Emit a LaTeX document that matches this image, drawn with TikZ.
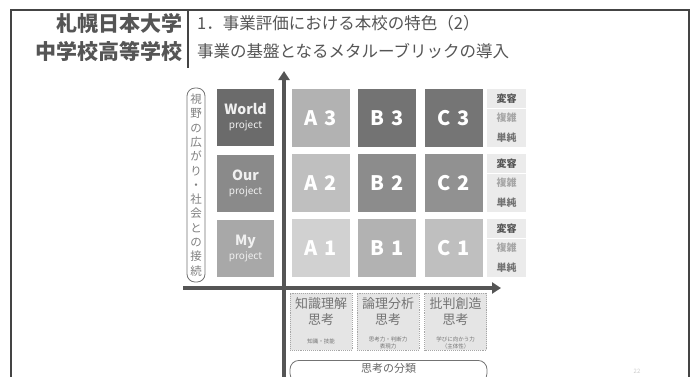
\documentclass[tikz,border=0pt]{standalone}
\usepackage{fontspec}
\setmainfont{Noto Sans CJK JP}
\usetikzlibrary{arrows.meta}
\definecolor{frame}{HTML}{444444}
\definecolor{txt}{HTML}{555555}
\definecolor{axis}{HTML}{555555}
\begin{document}
\begin{tikzpicture}[x=1pt,y=-1pt,
  cell/.style={inner sep=0pt, minimum width=58pt, minimum height=58pt, text=white, font=\fontsize{20}{20}\selectfont\bfseries},
  proj/.style={inner sep=0pt, minimum width=57pt, minimum height=57pt, text=white!94!black, align=center, font=\fontsize{14}{15}\selectfont\bfseries},
  lvl/.style={inner sep=0pt, minimum width=39pt, minimum height=19pt, fill=black!8, font=\fontsize{10}{10}\selectfont\bfseries},
  think/.style={inner sep=0pt, minimum width=62pt, minimum height=57pt, fill=black!10, draw=black!35, densely dotted, line width=0.9pt},
  thinkt/.style={inner sep=0pt, align=center, text=black!55, font=\fontsize{13}{16}\selectfont},
  small/.style={inner sep=0pt, font=\fontsize{5.5}{7}\selectfont, text=black!55, align=center}]
\useasboundingbox (0,0) rectangle (692,376);
\fill[white] (0,0) rectangle (692,376);
% frame
\coordinate (fbl) at (11,377);
\coordinate (ftl) at (11,10);
\coordinate (ftr) at (689,10);
\coordinate (fbr) at (689,377);
\draw[frame, line width=2pt] (fbl) -- (ftl) -- (ftr) -- (fbr);
\coordinate (dt) at (188,10);
\coordinate (db) at (188,68);
\draw[frame, line width=1.6pt] (dt) -- (db);
% header
\node[anchor=east, inner sep=0pt, text=txt, font=\fontsize{21}{21}\selectfont\bfseries] (school1) at (183,23) {札幌日本大学};
\node[anchor=east, inner sep=0pt, text=txt, font=\fontsize{21}{21}\selectfont\bfseries] (school2) at (183,51) {中学校高等学校};
\node[anchor=west, inner sep=0pt, text=txt, font=\fontsize{16.5}{17}\selectfont] (title1) at (197,23) {1．事業評価における本校の特色（2）};
\node[anchor=west, inner sep=0pt, text=txt, font=\fontsize{16.5}{17}\selectfont] (title2) at (197,51) {事業の基盤となるメタルーブリックの導入};
% axes
\coordinate (vb) at (284,377);
\coordinate (vt) at (284,71);
\coordinate (hl) at (183,288);
\coordinate (hr) at (501,288);
\draw[axis, line width=3.6pt, -{Triangle[length=9pt,width=11pt]}] (vb) -- (vt);
\draw[axis, line width=3.6pt, -{Triangle[length=9pt,width=11pt]}] (hl) -- (hr);
% vertical label
\node[draw=black!55, line width=0.8pt, rounded corners=8pt, minimum width=18pt, minimum height=194pt, inner sep=0pt] (view) at (196,185) {};
\node[inner sep=0pt, align=center, text=black!50, font=\fontsize{11.5}{14.3}\selectfont] (viewt) at (196,185) {視\\野\\の\\広\\が\\り\\・\\社\\会\\と\\の\\接\\続};
% projects
\node[proj, fill=black!58] (world) at (245.5,117.5) {World\\[-1pt]{\fontsize{10}{11}\selectfont\mdseries project}};
\node[proj, fill=black!46] (our) at (245.5,183.5) {Our\\[-1pt]{\fontsize{10}{11}\selectfont\mdseries project}};
\node[proj, fill=black!34] (my) at (245.5,248.5) {My\\[-1pt]{\fontsize{10}{11}\selectfont\mdseries project}};
% grid
\node[cell, fill=black!30] (a3) at (321,118) {A\,\,3};
\node[cell, fill=black!55] (b3) at (387,118) {B\,\,3};
\node[cell, fill=black!54] (c3) at (454,118) {C\,\,3};
\node[cell, fill=black!25] (a2) at (321,183) {A\,\,2};
\node[cell, fill=black!45] (b2) at (387,183) {B\,\,2};
\node[cell, fill=black!43] (c2) at (454,183) {C\,\,2};
\node[cell, fill=black!18] (a1) at (321,248) {A\,\,1};
\node[cell, fill=black!30] (b1) at (387,248) {B\,\,1};
\node[cell, fill=black!25] (c1) at (454,248) {C\,\,1};
% level labels
\foreach \r/\y in {3/98.5, 2/163.5, 1/228.5} {
  \node[lvl, text=black!68] (h\r) at (506.5,\y) {変容};
  \node[lvl, text=black!35] (m\r) at (506.5,\y+19.5) {複雑};
  \node[lvl, text=black!55] (l\r) at (506.5,\y+39) {単純};
}
% thinking boxes
\node[think] (k) at (321,321.5) {};
\node[think] (r) at (388,321.5) {};
\node[think] (c) at (455.5,321.5) {};
\node[thinkt] (kt) at (321,312) {知識理解\\思考};
\node[thinkt] (rt) at (388,312) {論理分析\\思考};
\node[thinkt] (ct) at (455.5,312) {批判創造\\思考};
\node[small] (ks) at (321,341) {知識・技能};
\node[small] (rs) at (388,343) {思考力・判断力\\表現力};
\node[small] (cs) at (455.5,343) {学びに向かう力\\（主体性）};
% classification label
\node[draw=black!55, line width=0.8pt, rounded corners=9pt, minimum width=197pt, minimum height=22pt, anchor=north, inner sep=0pt] (cls) at (388.5,360) {};
\node[text=black!60, inner sep=0pt, font=\fontsize{11}{11}\selectfont] (clst) at (388.5,368.5) {思考の分類};
% page number
\node[text=black!20, inner sep=0pt, font=\fontsize{6}{6}\selectfont] (pg) at (637,371) {22};
\end{tikzpicture}
\end{document}
